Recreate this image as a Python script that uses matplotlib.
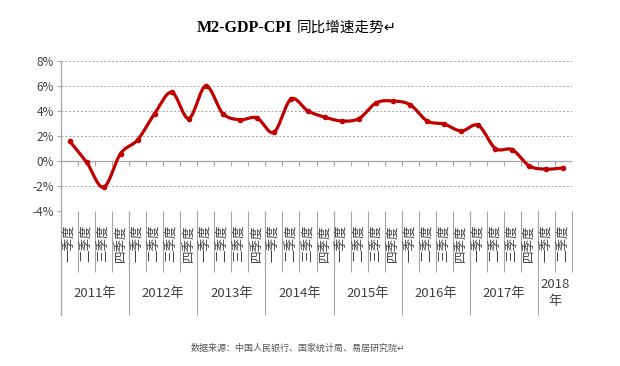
import numpy as np
import matplotlib
matplotlib.use("Agg")
import matplotlib.pyplot as plt

plt.rcParams['font.family'] = ['Noto Sans CJK SC', 'DejaVu Sans']

# %% data
years = ["2011年", "2012年", "2013年", "2014年", "2015年", "2016年", "2017年", "2018\n年"]
quarters_per_year = [4, 4, 4, 4, 4, 4, 4, 2]
quarter_names = ["一季度", "二季度", "三季度", "四季度"]
values = [1.6, -0.1, -2.1, 0.6,
          1.7, 3.8, 5.5, 3.4,
          6.0, 3.8, 3.3, 3.45,
          2.3, 4.95, 4.0, 3.5,
          3.2, 3.4, 4.65, 4.8,
          4.5, 3.2, 2.95, 2.4,
          2.85, 1.0, 0.9, -0.4,
          -0.65, -0.55]
yticks = [-4, -2, 0, 2, 4, 6, 8]

title_latin = "M2-GDP-CPI"
title_cn = "同比增速走势↵"
source = "数据来源：中国人民银行、国家统计局、易居研究院↵"

red = "#c00000"
grey = "#a6a6a6"
txt = "#404040"


def smooth(x, y, n=20):
    # catmull-rom style curve through the points, like excel's smoothed line
    x = np.asarray(x, float)
    y = np.asarray(y, float)
    px = np.concatenate([[2 * x[0] - x[1]], x, [2 * x[-1] - x[-2]]])
    py = np.concatenate([[2 * y[0] - y[1]], y, [2 * y[-1] - y[-2]]])
    xs, ys = [], []
    for i in range(1, len(px) - 2):
        t = np.linspace(0, 1, n, endpoint=False)
        p0, p1, p2, p3 = [np.array([px[j], py[j]]) for j in (i - 1, i, i + 1, i + 2)]
        c1 = p1 + (p2 - p0) / 6
        c2 = p2 - (p3 - p1) / 6
        b = ((1 - t) ** 3)[:, None] * p1 + (3 * (1 - t) ** 2 * t)[:, None] * c1 \
            + (3 * (1 - t) * t ** 2)[:, None] * c2 + (t ** 3)[:, None] * p2
        xs.extend(b[:, 0])
        ys.extend(b[:, 1])
    xs.append(x[-1])
    ys.append(y[-1])
    return np.array(xs), np.array(ys)


W, H = 620, 366
fig = plt.figure(figsize=(W / 100, H / 100), dpi=100)
left, right, top, bottom = 61, 572, 61, 211
ax = fig.add_axes([left / W, 1 - bottom / H, (right - left) / W, (bottom - top) / H])

n = len(values)
xs = np.arange(n) + 0.5
ax.set_xlim(0, n)
ax.set_ylim(-4, 8)

for v in yticks:
    if v == 0:
        ax.axhline(v, color=grey, lw=0.9, zorder=1)
    else:
        ax.axhline(v, color=grey, lw=0.7, ls=(0, (2, 2)), zorder=1)

sx, sy = smooth(xs, values)
ax.plot(sx, sy, color=red, lw=2.3, zorder=3, solid_capstyle='round')
ax.plot(xs, values, 'o', color=red, ms=3, zorder=4)

for s in ax.spines.values():
    s.set_visible(False)
ax.set_xticks([])
ax.set_yticks(yticks)
ax.set_yticklabels([f"{v}%" for v in yticks], fontsize=8.5, color=txt)
ax.tick_params(axis='y', length=3, color=grey, pad=2)

tr = ax.get_xaxis_transform()
ph = bottom - top
# left axis, running down through the category labels
ax.plot([0, 0], [1, -104 / ph], color=grey, lw=0.9, transform=tr, clip_on=False)
# small ticks below the 0% line
ax.vlines(np.arange(1, n + 1), 0, -0.4, color=grey, lw=0.8, zorder=1)
# quarter dividers under the axis
ax.vlines(np.arange(1, n + 1), 0, -61 / ph, color=grey, lw=0.8, transform=tr, clip_on=False)

# quarter labels and year groups
i = 0
for yr, k in zip(years, quarters_per_year):
    ax.vlines(i, 0, -104 / ph, color=grey, lw=0.8, transform=tr, clip_on=False)
    for q in range(k):
        ax.text(i + q + 0.5, -13 / ph, quarter_names[q], rotation=90, transform=tr,
                ha='center', va='top', fontsize=9, color=txt)
    ax.text(i + k / 2, -82 / ph, yr, transform=tr, ha='center', va='center',
            fontsize=9.5, color=txt, linespacing=1.3)
    i += k

fig.text(292 / W, 1 - 28 / H, title_latin, ha='right', va='center', fontsize=11.5,
         fontweight='bold', family=['Liberation Serif', 'DejaVu Serif'])
fig.text(297 / W, 1 - 28 / H, title_cn, ha='left', va='center', fontsize=10.5,
         fontweight='medium', family=['Noto Sans CJK SC', 'DejaVu Sans'])
fig.text(298 / W, 1 - 348 / H, source, ha='center', va='center', fontsize=6.5,
         color='#555555')

fig.savefig("out.png", dpi=100)
